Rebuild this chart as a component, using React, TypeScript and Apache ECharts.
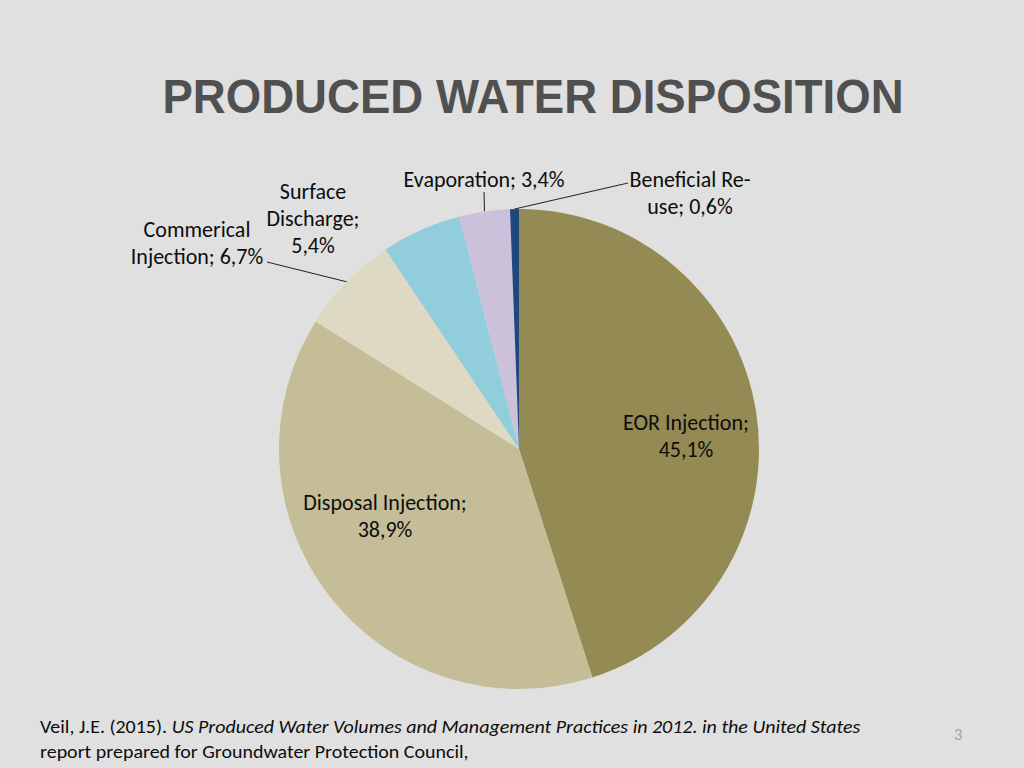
import React, { useEffect, useRef } from 'react';
import * as echarts from 'echarts';

// ---- data ----
const categories = [
  'EOR Injection',
  'Disposal Injection',
  'Commerical Injection',
  'Surface Discharge',
  'Evaporation',
  'Beneficial Re-use',
];
const values = [45.1, 38.9, 6.7, 5.4, 3.4, 0.6];
// label templates ({v} = value), with the reference's line breaks
const labelTemplates = [
  'EOR Injection;\n{v}%',
  'Disposal Injection;\n{v}%',
  'Commerical\nInjection; {v}%',
  'Surface\nDischarge;\n{v}%',
  'Evaporation; {v}%',
  'Beneficial Re-\nuse; {v}%',
];
const titleText = 'PRODUCED WATER DISPOSITION';
const sourceNormal = 'Veil, J.E. (2015). ';
const sourceItalic = 'US Produced Water Volumes and Management Practices in 2012. in the United States';
const sourceLine2 = 'report prepared for Groundwater Protection Council,';
const pageNumber = '3';

// ---- styles / layout ----
const colors = ['#948A54', '#C4BD97', '#DDD9C3', '#92CDDC', '#CCC1DA', '#1F497D'];
const insideLabel = [true, true, false, false, false, false];
const showLine = [false, false, true, false, true, true];
const labelPos: number[][] = [
  [686, 436],
  [385, 516],
  [197, 243],
  [313, 218],
  [484, 179],
  [690, 193],
];
const lineEnds: (number[] | null)[] = [null, null, [267, 262], null, [484, 192], [628, 183]];
const labelFont = 'Carlito, Lato, "Open Sans", sans-serif';

const fmt = (v: number) => v.toFixed(1).replace('.', ',');

export default function App() {
  const ref = useRef<HTMLDivElement>(null);
  useEffect(() => {
    if (!ref.current) return;
    const chart = echarts.init(ref.current, undefined, { renderer: 'svg' });
    const data = categories.map((name, i) => ({
      name,
      value: values[i],
      itemStyle: { color: colors[i] },
      label: {
        position: insideLabel[i] ? 'inside' : 'outside',
        formatter: labelTemplates[i].replace('{v}', fmt(values[i])),
      },
      labelLine: { show: showLine[i] },
    }));
    chart.setOption({
      animation: false,
      backgroundColor: '#e0e0e0',
      series: [
        {
          type: 'pie',
          center: [519, 449],
          radius: 240,
          startAngle: 90,
          clockwise: true,
          avoidLabelOverlap: false,
          data,
          label: {
            show: true,
            color: '#0d0d0d',
            fontSize: 22,
            lineHeight: 27,
            fontFamily: labelFont,
            align: 'center',
          },
          labelLine: {
            show: true,
            length: 10,
            length2: 10,
            lineStyle: { color: '#222', width: 1 },
          },
          emphasis: { disabled: true },
          labelLayout: (params: any) => {
            const i = params.dataIndex;
            const [x, y] = labelPos[i];
            const res: any = { x, y, align: 'center', verticalAlign: 'middle' };
            const end = lineEnds[i];
            if (end && params.labelLinePoints) {
              const p0 = params.labelLinePoints[0];
              res.labelLinePoints = [p0, end, end];
            }
            return res;
          },
        },
      ],
      graphic: [
        {
          type: 'text',
          x: 533,
          y: 97,
          scaleX: 0.95,
          style: {
            text: titleText,
            fill: '#505050',
            fontSize: 48,
            fontWeight: 'bold',
            fontFamily: '"Liberation Sans", Arial, sans-serif',
            align: 'center',
            verticalAlign: 'middle',
          },
        },
        {
          type: 'text',
          x: 40,
          y: 727,
          scaleX: 1.11,
          style: {
            text: `{n|${sourceNormal}}{i|${sourceItalic}}`,
            verticalAlign: 'middle',
            align: 'left',
            rich: {
              n: { fontSize: 18, fontFamily: labelFont, fill: '#0d0d0d' },
              i: { fontSize: 18, fontFamily: labelFont, fill: '#0d0d0d', fontStyle: 'italic' },
            },
          },
        },
        {
          type: 'text',
          x: 40,
          y: 752,
          scaleX: 1.11,
          style: {
            text: sourceLine2,
            fontSize: 18,
            fontFamily: labelFont,
            fill: '#0d0d0d',
            verticalAlign: 'middle',
            align: 'left',
          },
        },
        {
          type: 'text',
          x: 958,
          y: 734,
          style: {
            text: pageNumber,
            fontSize: 17,
            fontFamily: labelFont,
            fill: '#a6a6a6',
            align: 'center',
            verticalAlign: 'middle',
          },
        },
      ],
    });
    return () => chart.dispose();
  }, []);
  return (
    <div
      ref={ref}
      style={{ position: 'fixed', left: 0, top: 0, width: 1024, height: 768, background: '#e0e0e0' }}
    />
  );
}
